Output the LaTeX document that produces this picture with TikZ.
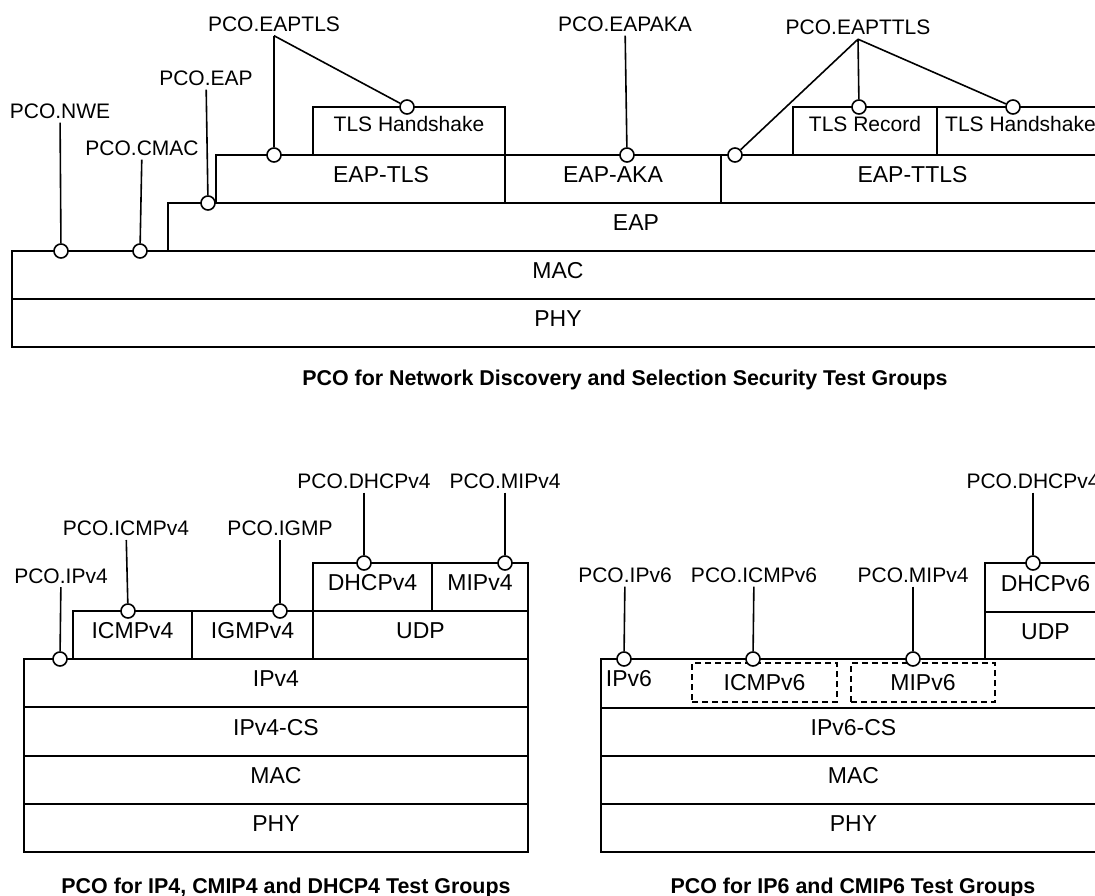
\documentclass[tikz,border=0pt]{standalone}
\usepackage{fontspec}
\setmainfont{Liberation Sans}
\tikzset{
  lay/.style={draw, line width=1.8pt, inner sep=0pt, outer sep=0pt,
    font=\fontsize{23}{27}\selectfont, text height=16.5pt, text depth=9pt},
  sub/.style={font=\fontsize{21}{25}\selectfont, text height=15pt, text depth=14pt},
  dbox/.style={draw, dash pattern=on 6pt off 4pt, line width=1.5pt, inner sep=0pt, outer sep=0pt,
    font=\fontsize{23}{27}\selectfont, text height=16.5pt, text depth=0pt},
  pco/.style={circle, draw, fill=white, line width=1.6pt, minimum size=14pt, inner sep=0pt},
  plab/.style={font=\fontsize{21}{25}\selectfont, text height=15pt, text depth=0pt,
    inner xsep=2pt, inner ysep=4pt},
  conn/.style={line width=1.6pt},
  plain/.style={font=\fontsize{23}{27}\selectfont, text height=16.5pt, text depth=0pt, inner sep=0pt},
  capt/.style={font=\bfseries\fontsize{21.4}{25}\selectfont, text height=15.3pt, text depth=0pt, inner sep=0pt},
}
\newcommand\LBox[7][]{\node[lay,#1,minimum width={(#5-#3)*1pt},minimum height={(#6-#4)*1pt},anchor=north west] (#2) at (#3,#4) {#7};}
\begin{document}
\begin{tikzpicture}[x=1pt,y=-1pt]
\useasboundingbox (0,0) rectangle (1095,896);
\clip (0,0) rectangle (1095,896);
% ---------- top diagram ----------
\LBox{phyA}{12}{299}{1104}{347}{PHY}
\LBox{macA}{12}{251}{1104}{299}{MAC}
\LBox{eap}{168}{203}{1104}{251}{EAP}
\LBox{eaptls}{216}{155}{505}{203}{}
\node[plain] (eaptlst) at (381,174.5) {EAP-TLS};
\LBox{eapaka}{505}{155}{721}{203}{EAP-AKA}
\LBox{eapttls}{721}{155}{1104}{203}{EAP-TTLS}
\LBox[sub]{tlshsA}{313}{107}{505}{155}{TLS Handshake}
\LBox[sub]{tlsrec}{793}{107}{937}{155}{TLS Record}
\LBox[sub]{tlshsB}{937}{107}{1104}{155}{TLS Handshake}

\node[pco] (cnwe) at (61,251) {};
\node[pco] (ccmac) at (140,251) {};
\node[pco] (ceap) at (208,203) {};
\node[pco] (ceaptlsA) at (274,155) {};
\node[pco] (ceaptlsB) at (407,107) {};
\node[pco] (ceapaka) at (627,155) {};
\node[pco] (cttlsA) at (735,155) {};
\node[pco] (cttlsB) at (859,107) {};
\node[pco] (cttlsC) at (1013,107) {};

\node[plab] (lnwe) at (60,111) {PCO.NWE};
\node[plab] (lcmac) at (142,148) {PCO.CMAC};
\node[plab] (leap) at (206,78) {PCO.EAP};
\node[plab] (leaptls) at (274,24) {PCO.EAPTLS};
\node[plab] (leapaka) at (625,24) {PCO.EAPAKA};
\node[plab] (lttls) at (858,27.5) {PCO.EAPTTLS};
\coordinate (aeaptls) at (leaptls.south);
\coordinate (attls) at (lttls.south);

\draw[conn] (lnwe) -- (cnwe);
\draw[conn] (lcmac) -- (ccmac);
\draw[conn] (leap) -- (ceap);
\draw[conn] (aeaptls) -- (ceaptlsA);
\draw[conn] (aeaptls) -- (ceaptlsB);
\draw[conn] (leapaka) -- (ceapaka);
\draw[conn] (attls) -- (cttlsA);
\draw[conn] (attls) -- (cttlsB);
\draw[conn] (attls) -- (cttlsC);

\node[capt] (capA) at (625,378) {PCO for Network Discovery and Selection Security Test Groups};

% ---------- bottom-left diagram ----------
\LBox{phyB}{24}{804}{528}{852}{PHY}
\LBox{macB}{24}{756}{528}{804}{MAC}
\LBox{csfour}{24}{707}{528}{756}{IPv4-CS}
\LBox{ipfour}{24}{659}{528}{707}{IPv4}
\LBox{icmpfour}{73}{611}{192}{659}{ICMPv4}
\LBox{igmpfour}{192}{611}{313}{659}{IGMPv4}
\LBox{udpfour}{313}{611}{528}{659}{UDP}
\LBox{dhcpfour}{313}{563}{432}{611}{DHCPv4}
\LBox{mipfour}{432}{563}{528}{611}{MIPv4}

\node[pco] (cipfour) at (60,659) {};
\node[pco] (cicmpfour) at (128,611) {};
\node[pco] (cigmp) at (280,611) {};
\node[pco] (cdhcpfour) at (364,563) {};
\node[pco] (cmipfour) at (505,563) {};

\node[plab] (lipfour) at (61,575.5) {PCO.IPv4};
\node[plab] (licmpfour) at (126,528.3) {PCO.ICMPv4};
\node[plab] (ligmp) at (280,528.3) {PCO.IGMP};
\node[plab] (ldhcpfour) at (364,481) {PCO.DHCPv4};
\node[plab] (lmipfour) at (505,481) {PCO.MIPv4};

\draw[conn] (lipfour) -- (cipfour);
\draw[conn] (licmpfour) -- (cicmpfour);
\draw[conn] (ligmp) -- (cigmp);
\draw[conn] (ldhcpfour) -- (cdhcpfour);
\draw[conn] (lmipfour) -- (cmipfour);

\node[capt] (capB) at (286,886) {PCO for IP4, CMIP4 and DHCP4 Test Groups};

% ---------- bottom-right diagram ----------
\LBox{phyC}{601}{804}{1106}{852}{PHY}
\LBox{macC}{601}{756}{1106}{804}{MAC}
\LBox{cssix}{601}{708}{1106}{756}{IPv6-CS}
\LBox{ipsix}{601}{659}{1106}{708}{}
\node[plain] (ipsixt) at (629,678.5) {IPv6};
\node[dbox, minimum width=145pt, minimum height=39pt, anchor=north west] (icmpsix) at (692,663) {ICMPv6};
\node[dbox, minimum width=144pt, minimum height=39pt, anchor=north west] (mipsix) at (851,663) {MIPv6};
\LBox{udpsix}{985}{612}{1106}{659}{UDP}
\LBox{dhcpsix}{985}{563}{1106}{612}{DHCPv6}

\node[pco] (cipsix) at (624,659) {};
\node[pco] (cicmpsix) at (753,659) {};
\node[pco] (cmipsix) at (913,659) {};
\node[pco] (cdhcpsix) at (1033,563) {};

\node[plab] (lipsix) at (625,575) {PCO.IPv6};
\node[plab] (licmpsix) at (754,575) {PCO.ICMPv6};
\node[plab] (lmipsix) at (913,575) {PCO.MIPv4};
\node[plab] (ldhcpsix) at (1033,481) {PCO.DHCPv4};

\draw[conn] (lipsix) -- (cipsix);
\draw[conn] (licmpsix) -- (cicmpsix);
\draw[conn] (lmipsix) -- (cmipsix);
\draw[conn] (ldhcpsix) -- (cdhcpsix);

\node[capt] (capC) at (853,886) {PCO for IP6 and CMIP6 Test Groups};
\end{tikzpicture}
\end{document}
